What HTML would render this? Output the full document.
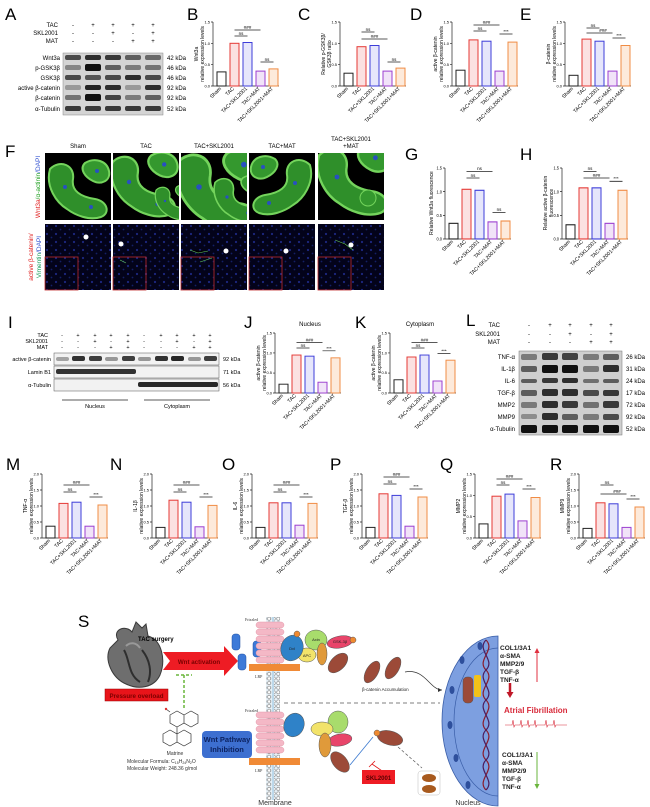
<!DOCTYPE html>
<html><head><meta charset="utf-8"><style>
html,body{margin:0;padding:0;background:#fff}
svg{display:block;font-family:"Liberation Sans",sans-serif}
.L{font-size:17px}
.t{font-size:5.5px}
.s{font-size:6px}
.k{font-size:6.5px}
.ax{stroke:#222;stroke-width:.7;fill:none}
.b0{stroke:#222;fill:#fff;stroke-width:1}
.b1{stroke:#e53935;fill:#fbe1e1;stroke-width:1}
.b2{stroke:#3d3dd9;fill:#e6e6fb;stroke-width:1}
.b3{stroke:#9c3fd0;fill:#f1e3f8;stroke-width:1}
.b4{stroke:#f08c44;fill:#fdeadb;stroke-width:1}
.tk{font-size:4px;text-anchor:end}
.xl{font-size:5.2px;text-anchor:end}
.yt{font-size:5px;text-anchor:middle}
.sg{font-size:4.5px;text-anchor:middle}
.bl{fill:#111}
</style></head><body>
<svg width="650" height="807" viewBox="0 0 650 807" xmlns="http://www.w3.org/2000/svg">
<defs>
<pattern id="dapi" width="9" height="8" patternUnits="userSpaceOnUse">
<rect width="9" height="8" fill="#03031a"/>
<circle cx="2" cy="2" r="1.1" fill="#1c2880"/><circle cx="6.5" cy="5.5" r=".9" fill="#141f66"/>
</pattern>
<pattern id="lip" width="4.6" height="4.6" patternUnits="userSpaceOnUse">
<rect width="4.6" height="4.6" fill="#e8f2f8"/>
<circle cx="2.3" cy="2.3" r="1.6" fill="#fff" stroke="#666" stroke-width=".5"/>
</pattern>
<g id="tis">
<path d="M5,12 C15,2 30,8 28,22 C26,34 36,40 50,42 C62,44 66,56 56,60 C44,64 30,58 22,52 C12,46 0,30 5,12Z" fill="#2f8f2a" stroke="#74d45c" stroke-width="2"/>
<path d="M40,6 C50,0 62,4 64,14 C66,24 56,28 48,24 C40,20 34,12 40,6Z" fill="#34982e" stroke="#74d45c" stroke-width="2"/>
<circle cx="20" cy="30" r="2" fill="#2850c0"/><circle cx="46" cy="50" r="2" fill="#2850c0"/><circle cx="52" cy="14" r="2" fill="#2850c0"/>
</g>
</defs>

<!-- ================= A ================= -->
<text class="L" x="5" y="20">A</text>
<g class="s" text-anchor="end"><text x="58" y="27">TAC</text><text x="58" y="35">SKL2001</text><text x="58" y="43">MAT</text></g>
<g class="s" text-anchor="middle">
<text x="73" y="27">-</text><text x="93" y="27">+</text><text x="113" y="27">+</text><text x="133" y="27">+</text><text x="153" y="27">+</text>
<text x="73" y="35">-</text><text x="93" y="35">-</text><text x="113" y="35">+</text><text x="133" y="35">-</text><text x="153" y="35">+</text>
<text x="73" y="43">-</text><text x="93" y="43">-</text><text x="113" y="43">-</text><text x="133" y="43">+</text><text x="153" y="43">+</text>
</g>
<rect x="63" y="53" width="100" height="62" fill="#d4d4d4" stroke="#888" stroke-width=".5"/>
<g class="s" text-anchor="end">
<text x="60" y="60">Wnt3a</text><text x="60" y="70">p-GSK3β</text><text x="60" y="80">GSK3β</text><text x="60" y="90">active β-catenin</text><text x="60" y="100">β-catenin</text><text x="60" y="111">α-Tubulin</text>
</g>
<g class="s"><text x="167" y="60">42 kDa</text><text x="167" y="70">46 kDa</text><text x="167" y="80">46 kDa</text><text x="167" y="90">92 kDa</text><text x="167" y="100">92 kDa</text><text x="167" y="111">52 kDa</text></g>
<g class="bl">
<rect x="65" y="55" width="16" height="5" rx="2" opacity=".7"/><rect x="85" y="55" width="16" height="5" rx="2" opacity=".85"/><rect x="105" y="55" width="16" height="5" rx="2" opacity=".8"/><rect x="125" y="55" width="16" height="5" rx="2" opacity=".6"/><rect x="145" y="55" width="16" height="5" rx="2" opacity=".55"/>
<rect x="65" y="65" width="16" height="5" rx="2" opacity=".4"/><rect x="85" y="64" width="16" height="7" rx="2" opacity="1"/><rect x="105" y="65" width="16" height="5" rx="2" opacity=".6"/><rect x="125" y="65" width="16" height="5" rx="2" opacity=".45"/><rect x="145" y="65" width="16" height="5" rx="2" opacity=".5"/>
<rect x="65" y="75" width="16" height="5" rx="2" opacity=".7"/><rect x="85" y="75" width="16" height="5" rx="2" opacity=".65"/><rect x="105" y="75" width="16" height="5" rx="2" opacity=".7"/><rect x="125" y="75" width="16" height="5" rx="2" opacity=".85"/><rect x="145" y="75" width="16" height="5" rx="2" opacity=".7"/>
<rect x="65" y="85" width="16" height="5" rx="2" opacity=".3"/><rect x="85" y="85" width="16" height="5" rx="2" opacity=".9"/><rect x="105" y="85" width="16" height="5" rx="2" opacity=".85"/><rect x="125" y="85" width="16" height="5" rx="2" opacity=".3"/><rect x="145" y="85" width="16" height="5" rx="2" opacity=".85"/>
<rect x="65" y="95" width="16" height="5" rx="2" opacity=".5"/><rect x="85" y="94" width="16" height="7" rx="2" opacity="1"/><rect x="105" y="95" width="16" height="5" rx="2" opacity=".75"/><rect x="125" y="95" width="16" height="5" rx="2" opacity=".45"/><rect x="145" y="95" width="16" height="5" rx="2" opacity=".6"/>
<rect x="65" y="106" width="16" height="5" rx="2" opacity=".8"/><rect x="85" y="106" width="16" height="5" rx="2" opacity=".8"/><rect x="105" y="106" width="16" height="5" rx="2" opacity=".8"/><rect x="125" y="106" width="16" height="5" rx="2" opacity=".8"/><rect x="145" y="106" width="16" height="5" rx="2" opacity=".8"/>
</g>

<!-- ================= charts ================= -->
<!-- B -->
<text class="L" x="187" y="20">B</text>
<g transform="translate(213,22)">
<g><path class="ax" d="M0,0V64H66M-2,0H0M-2,21.3H0M-2,42.7H0M-2,64H0"/>
<text class="tk" x="-3" y="65.5">0.0</text><text class="tk" x="-3" y="44">0.5</text><text class="tk" x="-3" y="23">1.0</text><text class="tk" x="-3" y="1.5">1.5</text>
<rect class="b0" x="4" y="49.9" width="9" height="14.1"/><rect class="b1" x="17" y="21.3" width="9" height="42.7"/><rect class="b2" x="30" y="20.5" width="9" height="43.5"/><rect class="b3" x="43" y="49.1" width="9" height="14.9"/><rect class="b4" x="56" y="46.9" width="9" height="17.1"/>
<path class="ax" d="M21.5,8H47.5M21.5,14H34.5M47.5,40H60.5"/><text class="sg" x="34.5" y="7">###</text><text class="sg" x="28" y="13">ns</text><text class="sg" x="54" y="39">ns</text></g>
<text class="yt" transform="translate(-15,32) rotate(-90)">Wnt3a</text><text class="yt" transform="translate(-9,32) rotate(-90)">relative expression levels</text>
<g transform="translate(0,67)"><text class="xl" transform="translate(8.5,0) rotate(-45)">Sham</text><text class="xl" transform="translate(21.5,0) rotate(-45)">TAC</text><text class="xl" transform="translate(34.5,0) rotate(-45)">TAC+SKL2001</text><text class="xl" transform="translate(47.5,0) rotate(-45)">TAC+MAT</text><text class="xl" transform="translate(60.5,0) rotate(-45)">TAC+SKL2001+MAT</text></g>
</g>
<!-- C -->
<text class="L" x="298" y="20">C</text>
<g transform="translate(340,22)">
<g><path class="ax" d="M0,0V64H66M-2,0H0M-2,21.3H0M-2,42.7H0M-2,64H0"/>
<text class="tk" x="-3" y="65.5">0.0</text><text class="tk" x="-3" y="44">0.5</text><text class="tk" x="-3" y="23">1.0</text><text class="tk" x="-3" y="1.5">1.5</text>
<rect class="b0" x="4" y="51.2" width="9" height="12.8"/><rect class="b1" x="17" y="24.7" width="9" height="39.3"/><rect class="b2" x="30" y="23.5" width="9" height="40.5"/><rect class="b3" x="43" y="49.1" width="9" height="14.9"/><rect class="b4" x="56" y="46.1" width="9" height="17.9"/>
<path class="ax" d="M21.5,10H34.5M21.5,17H47.5M47.5,40H60.5"/><text class="sg" x="28" y="9">ns</text><text class="sg" x="34.5" y="16">###</text><text class="sg" x="54" y="39">ns</text></g>
<text class="yt" transform="translate(-15,32) rotate(-90)">Relative p-GSK3β/</text><text class="yt" transform="translate(-9,32) rotate(-90)">GSK3β ratio</text>
<g transform="translate(0,67)"><text class="xl" transform="translate(8.5,0) rotate(-45)">Sham</text><text class="xl" transform="translate(21.5,0) rotate(-45)">TAC</text><text class="xl" transform="translate(34.5,0) rotate(-45)">TAC+SKL2001</text><text class="xl" transform="translate(47.5,0) rotate(-45)">TAC+MAT</text><text class="xl" transform="translate(60.5,0) rotate(-45)">TAC+SKL2001+MAT</text></g>
</g>
<!-- D -->
<text class="L" x="410" y="20">D</text>
<g transform="translate(452,22)">
<g><path class="ax" d="M0,0V64H66M-2,0H0M-2,21.3H0M-2,42.7H0M-2,64H0"/>
<text class="tk" x="-3" y="65.5">0.0</text><text class="tk" x="-3" y="44">0.5</text><text class="tk" x="-3" y="23">1.0</text><text class="tk" x="-3" y="1.5">1.5</text>
<rect class="b0" x="4" y="48.2" width="9" height="15.8"/><rect class="b1" x="17" y="17.9" width="9" height="46.1"/><rect class="b2" x="30" y="19.2" width="9" height="44.8"/><rect class="b3" x="43" y="49.1" width="9" height="14.9"/><rect class="b4" x="56" y="20.1" width="9" height="43.9"/>
<path class="ax" d="M21.5,3H47.5M21.5,9H34.5M47.5,12H60.5"/><text class="sg" x="34.5" y="2">###</text><text class="sg" x="28" y="8">ns</text><text class="sg" x="54" y="11">***</text></g>
<text class="yt" transform="translate(-15,32) rotate(-90)">active β-catenin</text><text class="yt" transform="translate(-9,32) rotate(-90)">relative expression levels</text>
<g transform="translate(0,67)"><text class="xl" transform="translate(8.5,0) rotate(-45)">Sham</text><text class="xl" transform="translate(21.5,0) rotate(-45)">TAC</text><text class="xl" transform="translate(34.5,0) rotate(-45)">TAC+SKL2001</text><text class="xl" transform="translate(47.5,0) rotate(-45)">TAC+MAT</text><text class="xl" transform="translate(60.5,0) rotate(-45)">TAC+SKL2001+MAT</text></g>
</g>
<!-- E -->
<text class="L" x="520" y="20">E</text>
<g transform="translate(565,22)">
<g><path class="ax" d="M0,0V64H66M-2,0H0M-2,21.3H0M-2,42.7H0M-2,64H0"/>
<text class="tk" x="-3" y="65.5">0.0</text><text class="tk" x="-3" y="44">0.5</text><text class="tk" x="-3" y="23">1.0</text><text class="tk" x="-3" y="1.5">1.5</text>
<rect class="b0" x="4" y="53.3" width="9" height="10.7"/><rect class="b1" x="17" y="17.1" width="9" height="46.9"/><rect class="b2" x="30" y="19.2" width="9" height="44.8"/><rect class="b3" x="43" y="49.1" width="9" height="14.9"/><rect class="b4" x="56" y="23.5" width="9" height="40.5"/>
<path class="ax" d="M21.5,6H34.5M21.5,11H47.5M47.5,16H60.5"/><text class="sg" x="28" y="5">ns</text><text class="sg" x="38" y="10">###</text><text class="sg" x="54" y="15">***</text></g>
<text class="yt" transform="translate(-15,32) rotate(-90)">β-catenin</text><text class="yt" transform="translate(-9,32) rotate(-90)">relative expression levels</text>
<g transform="translate(0,67)"><text class="xl" transform="translate(8.5,0) rotate(-45)">Sham</text><text class="xl" transform="translate(21.5,0) rotate(-45)">TAC</text><text class="xl" transform="translate(34.5,0) rotate(-45)">TAC+SKL2001</text><text class="xl" transform="translate(47.5,0) rotate(-45)">TAC+MAT</text><text class="xl" transform="translate(60.5,0) rotate(-45)">TAC+SKL2001+MAT</text></g>
</g>

<!-- ================= F ================= -->
<text class="L" x="5" y="157">F</text>
<g class="s" text-anchor="middle"><text x="78" y="148">Sham</text><text x="146" y="148">TAC</text><text x="214" y="148">TAC+SKL2001</text><text x="282" y="148">TAC+MAT</text><text x="351" y="141">TAC+SKL2001</text><text x="351" y="148">+MAT</text></g>
<text transform="translate(40,187) rotate(-90)" text-anchor="middle" font-size="6.5"><tspan fill="#e02020">Wnt3a</tspan><tspan fill="#20a020">/α-actinin</tspan><tspan fill="#3050d0">/DAPI</tspan></text>
<text transform="translate(33,257) rotate(-90)" text-anchor="middle" font-size="6.5" fill="#e02020">active β-catenin/</text>
<text transform="translate(41,257) rotate(-90)" text-anchor="middle" font-size="6.5"><tspan fill="#20a060">Vimentin</tspan><tspan fill="#3050d0">/DAPI</tspan></text>
<svg x="45" y="153" width="66" height="67"><rect width="66" height="67" fill="#000"/><use href="#tis" transform="translate(0,4)"/></svg>
<svg x="113" y="153" width="66" height="67"><rect width="66" height="67" fill="#000"/><use href="#tis" transform="translate(-6,-4) scale(1.1)"/><use href="#tis" transform="translate(40,30) scale(.6)"/></svg>
<svg x="181" y="153" width="66" height="67"><rect width="66" height="67" fill="#000"/><use href="#tis" transform="translate(-10,-8) scale(1.4)"/><use href="#tis" transform="translate(30,20) scale(.8)"/></svg>
<svg x="249" y="153" width="66" height="67"><rect width="66" height="67" fill="#000"/><use href="#tis" transform="translate(66,0) scale(-1,1)"/></svg>
<svg x="318" y="153" width="66" height="67"><rect width="66" height="67" fill="#000"/><use href="#tis" transform="translate(-5,-12) scale(1.2)"/><circle cx="50" cy="45" r="8" fill="#34982e" stroke="#74d45c"/></svg>
<g>
<rect x="45" y="224" width="66" height="66" fill="url(#dapi)"/><rect x="113" y="224" width="66" height="66" fill="url(#dapi)"/><rect x="181" y="224" width="66" height="66" fill="url(#dapi)"/><rect x="249" y="224" width="66" height="66" fill="url(#dapi)"/><rect x="318" y="224" width="66" height="66" fill="url(#dapi)"/>
<g fill="none" stroke="#c02828" stroke-width=".8"><rect x="45" y="257" width="33" height="33"/><rect x="113" y="257" width="33" height="33"/><rect x="181" y="257" width="33" height="33"/><rect x="249" y="257" width="33" height="33"/><rect x="318" y="257" width="33" height="33"/></g>
<g fill="#fff"><circle cx="86" cy="237" r="2.5"/><circle cx="121" cy="244" r="2.5"/><circle cx="226" cy="251" r="2.5"/><circle cx="286" cy="251" r="2.5"/><circle cx="351" cy="245" r="2.5"/></g>
<g stroke="#6c6" stroke-width=".6"><path d="M190,250l8,3 10,-2M200,262l12,-4M335,240l10,4 8,6M120,260l6,3"/></g>
</g>
<!-- G -->
<text class="L" x="405" y="160">G</text>
<g transform="translate(445,168)">
<g transform="scale(1,1.109)"><path class="ax" d="M0,0V64H66M-2,0H0M-2,21.3H0M-2,42.7H0M-2,64H0"/>
<text class="tk" x="-3" y="65.5">0.0</text><text class="tk" x="-3" y="44">0.5</text><text class="tk" x="-3" y="23">1.0</text><text class="tk" x="-3" y="1.5">1.5</text>
<rect class="b0" x="4" y="49.9" width="9" height="14.1"/><rect class="b1" x="17" y="19.2" width="9" height="44.8"/><rect class="b2" x="30" y="20.1" width="9" height="43.9"/><rect class="b3" x="43" y="48.6" width="9" height="15.4"/><rect class="b4" x="56" y="47.8" width="9" height="16.2"/>
<path class="ax" d="M21.5,3H47.5M21.5,9H34.5M47.5,40H60.5"/><text class="sg" x="34.5" y="2">ns</text><text class="sg" x="28" y="8">ns</text><text class="sg" x="54" y="39">ns</text></g>
<text class="yt" transform="translate(-12,35) rotate(-90)">Relative Wnt3a fluorescence</text>
<g transform="translate(0,74)"><text class="xl" transform="translate(8.5,0) rotate(-45)">Sham</text><text class="xl" transform="translate(21.5,0) rotate(-45)">TAC</text><text class="xl" transform="translate(34.5,0) rotate(-45)">TAC+SKL2001</text><text class="xl" transform="translate(47.5,0) rotate(-45)">TAC+MAT</text><text class="xl" transform="translate(60.5,0) rotate(-45)">TAC+SKL2001+MAT</text></g>
</g>
<!-- H -->
<text class="L" x="520" y="160">H</text>
<g transform="translate(562,168)">
<g transform="scale(1,1.109)"><path class="ax" d="M0,0V64H66M-2,0H0M-2,21.3H0M-2,42.7H0M-2,64H0"/>
<text class="tk" x="-3" y="65.5">0.0</text><text class="tk" x="-3" y="44">0.5</text><text class="tk" x="-3" y="23">1.0</text><text class="tk" x="-3" y="1.5">1.5</text>
<rect class="b0" x="4" y="51.2" width="9" height="12.8"/><rect class="b1" x="17" y="17.9" width="9" height="46.1"/><rect class="b2" x="30" y="17.9" width="9" height="46.1"/><rect class="b3" x="43" y="49.9" width="9" height="14.1"/><rect class="b4" x="56" y="20.1" width="9" height="43.9"/>
<path class="ax" d="M21.5,3H34.5M21.5,9H47.5M47.5,12H60.5"/><text class="sg" x="28" y="2">ns</text><text class="sg" x="34.5" y="8">###</text><text class="sg" x="54" y="11">***</text></g>
<text class="yt" transform="translate(-15,35) rotate(-90)">Relative active β-catenin</text><text class="yt" transform="translate(-9,35) rotate(-90)">fluorescence</text>
<g transform="translate(0,74)"><text class="xl" transform="translate(8.5,0) rotate(-45)">Sham</text><text class="xl" transform="translate(21.5,0) rotate(-45)">TAC</text><text class="xl" transform="translate(34.5,0) rotate(-45)">TAC+SKL2001</text><text class="xl" transform="translate(47.5,0) rotate(-45)">TAC+MAT</text><text class="xl" transform="translate(60.5,0) rotate(-45)">TAC+SKL2001+MAT</text></g>
</g>

<!-- ================= I ================= -->
<text class="L" x="8" y="328">I</text>
<g class="t" text-anchor="end"><text x="48" y="337">TAC</text><text x="48" y="343">SKL2001</text><text x="48" y="349">MAT</text></g>
<g class="t" text-anchor="middle">
<text x="62" y="337">-</text><text x="78" y="337">+</text><text x="95" y="337">+</text><text x="111" y="337">+</text><text x="128" y="337">+</text><text x="144" y="337">-</text><text x="161" y="337">+</text><text x="177" y="337">+</text><text x="194" y="337">+</text><text x="210" y="337">+</text>
<text x="62" y="343">-</text><text x="78" y="343">-</text><text x="95" y="343">+</text><text x="111" y="343">-</text><text x="128" y="343">+</text><text x="144" y="343">-</text><text x="161" y="343">-</text><text x="177" y="343">+</text><text x="194" y="343">-</text><text x="210" y="343">+</text>
<text x="62" y="349">-</text><text x="78" y="349">-</text><text x="95" y="349">-</text><text x="111" y="349">+</text><text x="128" y="349">+</text><text x="144" y="349">-</text><text x="161" y="349">-</text><text x="177" y="349">-</text><text x="194" y="349">+</text><text x="210" y="349">+</text>
</g>
<g fill="#f2f2f2" stroke="#555" stroke-width=".5"><rect x="54" y="353" width="165" height="12"/><rect x="54" y="366" width="165" height="12"/><rect x="54" y="379" width="165" height="12"/></g>
<g class="t" text-anchor="end"><text x="51" y="361">active β-catenin</text><text x="51" y="374">Lamin B1</text><text x="51" y="387">α-Tubulin</text></g>
<g class="t"><text x="223" y="361">92 kDa</text><text x="223" y="374">71 kDa</text><text x="223" y="387">56 kDa</text></g>
<g class="bl">
<rect x="56" y="357" width="13" height="4" rx="2" opacity=".35"/><rect x="72" y="356" width="13" height="5" rx="2" opacity=".85"/><rect x="89" y="356" width="13" height="5" rx="2" opacity=".8"/><rect x="105" y="357" width="13" height="4" rx="2" opacity=".4"/><rect x="122" y="356" width="13" height="5" rx="2" opacity=".8"/>
<rect x="138" y="357" width="13" height="4" rx="2" opacity=".4"/><rect x="155" y="356" width="13" height="5" rx="2" opacity=".85"/><rect x="171" y="356" width="13" height="5" rx="2" opacity=".9"/><rect x="188" y="357" width="13" height="4" rx="2" opacity=".4"/><rect x="204" y="356" width="13" height="5" rx="2" opacity=".8"/>
<rect x="56" y="369" width="80" height="5" rx="2" opacity=".85"/>
<rect x="138" y="382" width="80" height="5" rx="2" opacity=".9"/>
</g>
<path class="ax" d="M62,400H128M144,400H210"/>
<g class="t" text-anchor="middle"><text x="95" y="408">Nucleus</text><text x="177" y="408">Cytoplasm</text></g>
<!-- J -->
<text class="L" x="244" y="328">J</text><text class="s" x="310" y="326" text-anchor="middle">Nucleus</text>
<g transform="translate(275,333)">
<g transform="scale(1,.9375)"><path class="ax" d="M0,0V64H66M-2,0H0M-2,21.3H0M-2,42.7H0M-2,64H0"/>
<text class="tk" x="-3" y="65.5">0.0</text><text class="tk" x="-3" y="44">0.5</text><text class="tk" x="-3" y="23">1.0</text><text class="tk" x="-3" y="1.5">1.5</text>
<rect class="b0" x="4" y="54.6" width="9" height="9.4"/><rect class="b1" x="17" y="23.5" width="9" height="40.5"/><rect class="b2" x="30" y="24.7" width="9" height="39.3"/><rect class="b3" x="43" y="52.5" width="9" height="11.5"/><rect class="b4" x="56" y="26.5" width="9" height="37.5"/>
<path class="ax" d="M21.5,10H47.5M21.5,16H34.5M47.5,19H60.5"/><text class="sg" x="34.5" y="9">###</text><text class="sg" x="28" y="15">ns</text><text class="sg" x="54" y="18">***</text></g>
<text class="yt" transform="translate(-15,30) rotate(-90)">active β-catenin</text><text class="yt" transform="translate(-9,30) rotate(-90)">relative expression levels</text>
<g transform="translate(0,63)"><text class="xl" transform="translate(8.5,0) rotate(-45)">Sham</text><text class="xl" transform="translate(21.5,0) rotate(-45)">TAC</text><text class="xl" transform="translate(34.5,0) rotate(-45)">TAC+SKL2001</text><text class="xl" transform="translate(47.5,0) rotate(-45)">TAC+MAT</text><text class="xl" transform="translate(60.5,0) rotate(-45)">TAC+SKL2001+MAT</text></g>
</g>
<!-- K -->
<text class="L" x="355" y="328">K</text><text class="s" x="420" y="326" text-anchor="middle">Cytoplasm</text>
<g transform="translate(390,333)">
<g transform="scale(1,.9375)"><path class="ax" d="M0,0V64H66M-2,0H0M-2,21.3H0M-2,42.7H0M-2,64H0"/>
<text class="tk" x="-3" y="65.5">0.0</text><text class="tk" x="-3" y="44">0.5</text><text class="tk" x="-3" y="23">1.0</text><text class="tk" x="-3" y="1.5">1.5</text>
<rect class="b0" x="4" y="49.9" width="9" height="14.1"/><rect class="b1" x="17" y="25.6" width="9" height="38.4"/><rect class="b2" x="30" y="23.5" width="9" height="40.5"/><rect class="b3" x="43" y="51.2" width="9" height="12.8"/><rect class="b4" x="56" y="29" width="9" height="35"/>
<path class="ax" d="M21.5,10H47.5M21.5,16H34.5M47.5,22H60.5"/><text class="sg" x="34.5" y="9">###</text><text class="sg" x="28" y="15">ns</text><text class="sg" x="54" y="21">***</text></g>
<text class="yt" transform="translate(-15,30) rotate(-90)">active β-catenin</text><text class="yt" transform="translate(-9,30) rotate(-90)">relative expression levels</text>
<g transform="translate(0,63)"><text class="xl" transform="translate(8.5,0) rotate(-45)">Sham</text><text class="xl" transform="translate(21.5,0) rotate(-45)">TAC</text><text class="xl" transform="translate(34.5,0) rotate(-45)">TAC+SKL2001</text><text class="xl" transform="translate(47.5,0) rotate(-45)">TAC+MAT</text><text class="xl" transform="translate(60.5,0) rotate(-45)">TAC+SKL2001+MAT</text></g>
</g>

<!-- ================= L ================= -->
<text class="L" x="466" y="326">L</text>
<g class="s" text-anchor="end"><text x="500" y="327">TAC</text><text x="500" y="336">SKL2001</text><text x="500" y="344">MAT</text></g>
<g class="s" text-anchor="middle">
<text x="529" y="327">-</text><text x="550" y="327">+</text><text x="570" y="327">+</text><text x="591" y="327">+</text><text x="611" y="327">+</text>
<text x="529" y="336">-</text><text x="550" y="336">-</text><text x="570" y="336">+</text><text x="591" y="336">-</text><text x="611" y="336">+</text>
<text x="529" y="344">-</text><text x="550" y="344">-</text><text x="570" y="344">-</text><text x="591" y="344">+</text><text x="611" y="344">+</text>
</g>
<rect x="519" y="351" width="103" height="84" fill="#cfcfcf" stroke="#777" stroke-width=".5"/>
<g class="s" text-anchor="end"><text x="515" y="359">TNF-α</text><text x="515" y="371">IL-1β</text><text x="515" y="383">IL-6</text><text x="515" y="395">TGF-β</text><text x="515" y="407">MMP2</text><text x="515" y="419">MMP9</text><text x="515" y="431">α-Tubulin</text></g>
<g class="s"><text x="626" y="359">26 kDa</text><text x="626" y="371">31 kDa</text><text x="626" y="383">24 kDa</text><text x="626" y="395">17 kDa</text><text x="626" y="407">72 kDa</text><text x="626" y="419">92 kDa</text><text x="626" y="431">52 kDa</text></g>
<g class="bl">
<rect x="521" y="354" width="16" height="6" rx="2" opacity=".45"/><rect x="542" y="353" width="16" height="7" rx="2" opacity=".8"/><rect x="562" y="353" width="16" height="7" rx="2" opacity=".75"/><rect x="583" y="354" width="16" height="6" rx="2" opacity=".45"/><rect x="603" y="354" width="16" height="6" rx="2" opacity=".6"/>
<rect x="521" y="366" width="16" height="6" rx="2" opacity=".6"/><rect x="542" y="365" width="16" height="8" rx="2" opacity="1"/><rect x="562" y="365" width="16" height="8" rx="2" opacity="1"/><rect x="583" y="366" width="16" height="6" rx="2" opacity=".45"/><rect x="603" y="365" width="16" height="7" rx="2" opacity=".85"/>
<rect x="521" y="379" width="16" height="4" rx="2" opacity=".6"/><rect x="542" y="378" width="16" height="5" rx="2" opacity=".8"/><rect x="562" y="378" width="16" height="5" rx="2" opacity=".85"/><rect x="583" y="379" width="16" height="4" rx="2" opacity=".5"/><rect x="603" y="379" width="16" height="4" rx="2" opacity=".6"/>
<rect x="521" y="390" width="16" height="6" rx="2" opacity=".6"/><rect x="542" y="389" width="16" height="7" rx="2" opacity=".85"/><rect x="562" y="389" width="16" height="7" rx="2" opacity=".85"/><rect x="583" y="390" width="16" height="6" rx="2" opacity=".7"/><rect x="603" y="390" width="16" height="6" rx="2" opacity=".8"/>
<rect x="521" y="402" width="16" height="6" rx="2" opacity=".45"/><rect x="542" y="401" width="16" height="7" rx="2" opacity=".85"/><rect x="562" y="401" width="16" height="7" rx="2" opacity=".8"/><rect x="583" y="402" width="16" height="6" rx="2" opacity=".5"/><rect x="603" y="401" width="16" height="7" rx="2" opacity=".8"/>
<rect x="521" y="414" width="16" height="5" rx="2" opacity=".35"/><rect x="542" y="413" width="16" height="7" rx="2" opacity=".85"/><rect x="562" y="414" width="16" height="6" rx="2" opacity=".6"/><rect x="583" y="414" width="16" height="6" rx="2" opacity=".45"/><rect x="603" y="414" width="16" height="6" rx="2" opacity=".7"/>
<rect x="521" y="425" width="16" height="8" rx="2" opacity="1"/><rect x="542" y="425" width="16" height="8" rx="2" opacity="1"/><rect x="562" y="425" width="16" height="8" rx="2" opacity="1"/><rect x="583" y="425" width="16" height="8" rx="2" opacity="1"/><rect x="603" y="425" width="16" height="8" rx="2" opacity="1"/>
</g>

<!-- ================= M-R ================= -->
<text class="L" x="6" y="470">M</text>
<g transform="translate(42,474)">
<g><path class="ax" d="M0,0V64H66M-2,0H0M-2,16H0M-2,32H0M-2,48H0M-2,64H0"/>
<text class="tk" x="-3" y="65.5">0.0</text><text class="tk" x="-3" y="49.5">0.5</text><text class="tk" x="-3" y="33.5">1.0</text><text class="tk" x="-3" y="17.5">1.5</text><text class="tk" x="-3" y="1.5">2.0</text>
<rect class="b0" x="4" y="52.2" width="9" height="11.8"/><rect class="b1" x="17" y="29.4" width="9" height="34.6"/><rect class="b2" x="30" y="28.2" width="9" height="35.8"/><rect class="b3" x="43" y="52.2" width="9" height="11.8"/><rect class="b4" x="56" y="31" width="9" height="33"/>
<path class="ax" d="M21.5,11H47.5M21.5,18H34.5M47.5,23H60.5"/><text class="sg" x="34.5" y="10">###</text><text class="sg" x="28" y="17">ns</text><text class="sg" x="54" y="22">***</text></g>
<text class="yt" transform="translate(-15,32) rotate(-90)">TNF-α</text><text class="yt" transform="translate(-9,32) rotate(-90)">relative expression levels</text>
<g transform="translate(0,67)"><text class="xl" transform="translate(8.5,0) rotate(-45)">Sham</text><text class="xl" transform="translate(21.5,0) rotate(-45)">TAC</text><text class="xl" transform="translate(34.5,0) rotate(-45)">TAC+SKL2001</text><text class="xl" transform="translate(47.5,0) rotate(-45)">TAC+MAT</text><text class="xl" transform="translate(60.5,0) rotate(-45)">TAC+SKL2001+MAT</text></g>
</g>
<text class="L" x="110" y="470">N</text>
<g transform="translate(152,474)">
<g><path class="ax" d="M0,0V64H66M-2,0H0M-2,16H0M-2,32H0M-2,48H0M-2,64H0"/>
<text class="tk" x="-3" y="65.5">0.0</text><text class="tk" x="-3" y="49.5">0.5</text><text class="tk" x="-3" y="33.5">1.0</text><text class="tk" x="-3" y="17.5">1.5</text><text class="tk" x="-3" y="1.5">2.0</text>
<rect class="b0" x="4" y="53.4" width="9" height="10.6"/><rect class="b1" x="17" y="26.2" width="9" height="37.8"/><rect class="b2" x="30" y="28.2" width="9" height="35.8"/><rect class="b3" x="43" y="52.8" width="9" height="11.2"/><rect class="b4" x="56" y="31.4" width="9" height="32.6"/>
<path class="ax" d="M21.5,11H47.5M21.5,18H34.5M47.5,23H60.5"/><text class="sg" x="34.5" y="10">###</text><text class="sg" x="28" y="17">ns</text><text class="sg" x="54" y="22">***</text></g>
<text class="yt" transform="translate(-15,32) rotate(-90)">IL-1β</text><text class="yt" transform="translate(-9,32) rotate(-90)">relative expression levels</text>
<g transform="translate(0,67)"><text class="xl" transform="translate(8.5,0) rotate(-45)">Sham</text><text class="xl" transform="translate(21.5,0) rotate(-45)">TAC</text><text class="xl" transform="translate(34.5,0) rotate(-45)">TAC+SKL2001</text><text class="xl" transform="translate(47.5,0) rotate(-45)">TAC+MAT</text><text class="xl" transform="translate(60.5,0) rotate(-45)">TAC+SKL2001+MAT</text></g>
</g>
<text class="L" x="222" y="470">O</text>
<g transform="translate(252,474)">
<g><path class="ax" d="M0,0V64H66M-2,0H0M-2,16H0M-2,32H0M-2,48H0M-2,64H0"/>
<text class="tk" x="-3" y="65.5">0.0</text><text class="tk" x="-3" y="49.5">0.5</text><text class="tk" x="-3" y="33.5">1.0</text><text class="tk" x="-3" y="17.5">1.5</text><text class="tk" x="-3" y="1.5">2.0</text>
<rect class="b0" x="4" y="53.4" width="9" height="10.6"/><rect class="b1" x="17" y="28.8" width="9" height="35.2"/><rect class="b2" x="30" y="28.8" width="9" height="35.2"/><rect class="b3" x="43" y="51.2" width="9" height="12.8"/><rect class="b4" x="56" y="29.4" width="9" height="34.6"/>
<path class="ax" d="M21.5,11H47.5M21.5,18H34.5M47.5,23H60.5"/><text class="sg" x="34.5" y="10">###</text><text class="sg" x="28" y="17">ns</text><text class="sg" x="54" y="22">***</text></g>
<text class="yt" transform="translate(-15,32) rotate(-90)">IL-6</text><text class="yt" transform="translate(-9,32) rotate(-90)">relative expression levels</text>
<g transform="translate(0,67)"><text class="xl" transform="translate(8.5,0) rotate(-45)">Sham</text><text class="xl" transform="translate(21.5,0) rotate(-45)">TAC</text><text class="xl" transform="translate(34.5,0) rotate(-45)">TAC+SKL2001</text><text class="xl" transform="translate(47.5,0) rotate(-45)">TAC+MAT</text><text class="xl" transform="translate(60.5,0) rotate(-45)">TAC+SKL2001+MAT</text></g>
</g>
<text class="L" x="330" y="470">P</text>
<g transform="translate(362,474)">
<g><path class="ax" d="M0,0V64H66M-2,0H0M-2,16H0M-2,32H0M-2,48H0M-2,64H0"/>
<text class="tk" x="-3" y="65.5">0.0</text><text class="tk" x="-3" y="49.5">0.5</text><text class="tk" x="-3" y="33.5">1.0</text><text class="tk" x="-3" y="17.5">1.5</text><text class="tk" x="-3" y="1.5">2.0</text>
<rect class="b0" x="4" y="53.4" width="9" height="10.6"/><rect class="b1" x="17" y="19.8" width="9" height="44.2"/><rect class="b2" x="30" y="21.4" width="9" height="42.6"/><rect class="b3" x="43" y="52.2" width="9" height="11.8"/><rect class="b4" x="56" y="23" width="9" height="41"/>
<path class="ax" d="M21.5,3H47.5M21.5,10H34.5M47.5,15H60.5"/><text class="sg" x="34.5" y="2">###</text><text class="sg" x="28" y="9">ns</text><text class="sg" x="54" y="14">***</text></g>
<text class="yt" transform="translate(-15,32) rotate(-90)">TGF-β</text><text class="yt" transform="translate(-9,32) rotate(-90)">relative expression levels</text>
<g transform="translate(0,67)"><text class="xl" transform="translate(8.5,0) rotate(-45)">Sham</text><text class="xl" transform="translate(21.5,0) rotate(-45)">TAC</text><text class="xl" transform="translate(34.5,0) rotate(-45)">TAC+SKL2001</text><text class="xl" transform="translate(47.5,0) rotate(-45)">TAC+MAT</text><text class="xl" transform="translate(60.5,0) rotate(-45)">TAC+SKL2001+MAT</text></g>
</g>
<text class="L" x="440" y="470">Q</text>
<g transform="translate(475,474)">
<g><path class="ax" d="M0,0V64H66M-2,0H0M-2,21.3H0M-2,42.7H0M-2,64H0"/>
<text class="tk" x="-3" y="65.5">0.0</text><text class="tk" x="-3" y="44">0.5</text><text class="tk" x="-3" y="23">1.0</text><text class="tk" x="-3" y="1.5">1.5</text>
<rect class="b0" x="4" y="49.9" width="9" height="14.1"/><rect class="b1" x="17" y="22.2" width="9" height="41.8"/><rect class="b2" x="30" y="20.1" width="9" height="43.9"/><rect class="b3" x="43" y="46.9" width="9" height="17.1"/><rect class="b4" x="56" y="23.5" width="9" height="40.5"/>
<path class="ax" d="M21.5,5H47.5M21.5,11H34.5M47.5,15H60.5"/><text class="sg" x="34.5" y="4">###</text><text class="sg" x="28" y="10">ns</text><text class="sg" x="54" y="14">***</text></g>
<text class="yt" transform="translate(-15,32) rotate(-90)">MMP2</text><text class="yt" transform="translate(-9,32) rotate(-90)">relative expression levels</text>
<g transform="translate(0,67)"><text class="xl" transform="translate(8.5,0) rotate(-45)">Sham</text><text class="xl" transform="translate(21.5,0) rotate(-45)">TAC</text><text class="xl" transform="translate(34.5,0) rotate(-45)">TAC+SKL2001</text><text class="xl" transform="translate(47.5,0) rotate(-45)">TAC+MAT</text><text class="xl" transform="translate(60.5,0) rotate(-45)">TAC+SKL2001+MAT</text></g>
</g>
<text class="L" x="550" y="470">R</text>
<g transform="translate(579,474)">
<g><path class="ax" d="M0,0V64H66M-2,0H0M-2,16H0M-2,32H0M-2,48H0M-2,64H0"/>
<text class="tk" x="-3" y="65.5">0.0</text><text class="tk" x="-3" y="49.5">0.5</text><text class="tk" x="-3" y="33.5">1.0</text><text class="tk" x="-3" y="17.5">1.5</text><text class="tk" x="-3" y="1.5">2.0</text>
<rect class="b0" x="4" y="54.4" width="9" height="9.6"/><rect class="b1" x="17" y="28.8" width="9" height="35.2"/><rect class="b2" x="30" y="29.8" width="9" height="34.2"/><rect class="b3" x="43" y="53.4" width="9" height="10.6"/><rect class="b4" x="56" y="33" width="9" height="31"/>
<path class="ax" d="M21.5,11H34.5M21.5,20H47.5M47.5,25H60.5"/><text class="sg" x="28" y="10">ns</text><text class="sg" x="38" y="19">###</text><text class="sg" x="54" y="24">***</text></g>
<text class="yt" transform="translate(-15,32) rotate(-90)">MMP9</text><text class="yt" transform="translate(-9,32) rotate(-90)">relative expression levels</text>
<g transform="translate(0,67)"><text class="xl" transform="translate(8.5,0) rotate(-45)">Sham</text><text class="xl" transform="translate(21.5,0) rotate(-45)">TAC</text><text class="xl" transform="translate(34.5,0) rotate(-45)">TAC+SKL2001</text><text class="xl" transform="translate(47.5,0) rotate(-45)">TAC+MAT</text><text class="xl" transform="translate(60.5,0) rotate(-45)">TAC+SKL2001+MAT</text></g>
</g>

<!-- ================= S ================= -->
<text class="L" x="78" y="627">S</text>
<path d="M118,640 C112,630 125,624 132,632 L136,622 L142,628 L146,624 L148,636 C162,640 166,660 160,675 C154,688 138,690 126,684 C112,678 104,660 110,648 Z" fill="#6e6e6e" stroke="#3a3a3a" stroke-width="1"/>
<path d="M124,650 C130,660 128,675 140,682 M142,650 C150,660 152,672 148,682" stroke="#2e2e2e" stroke-width="2" fill="none"/>
<path d="M126,646 C130,642 136,642 140,648" stroke="#999" stroke-width="2" fill="none"/>
<text x="138" y="641" font-size="6" font-weight="bold">TAC surgery</text>
<rect x="105" y="689" width="63" height="12" fill="#e8141a" stroke="#900" stroke-width=".5"/>
<text x="136.5" y="698" font-size="6.2" font-weight="bold" fill="#7a0000" text-anchor="middle">Pressure overload</text>
<polygon points="163,652 224,652 224,646 238,661 224,676 224,670 163,670 170,661" fill="#ee1c24"/>
<text x="199" y="664" font-size="6.2" font-weight="bold" fill="#7a0000" text-anchor="middle">Wnt activation</text>
<g fill="#3d7ad8" stroke="#1f4fa0" stroke-width=".5"><rect x="232" y="634" width="8" height="16" rx="3"/><rect x="253" y="641" width="8" height="16" rx="3"/><rect x="238" y="654" width="8" height="16" rx="3"/></g>
<path d="M176,675H192M184,675V708" stroke="#6ab53c" stroke-width="1.5" stroke-dasharray="3,2" fill="none"/>
<g stroke="#333" stroke-width=".7" fill="none">
<path d="M170,715 l7,-4 7,4 0,8 -7,4 -7,-4Z M184,715 l7,-4 7,4 0,8 -7,4 -7,-4Z M163,734 l7,-4 7,4 0,8 -7,4 -7,-4Z M177,734 l7,-4 7,4 0,8 -7,4 -7,-4Z M177,727 l0,7 M170,712 l-4,-3"/>
</g>
<circle cx="166" cy="709" r="1.2" fill="#d33"/>
<g font-size="5" text-anchor="middle" fill="#333"><text x="175" y="755">Matrine</text></g>
<g font-size="5" fill="#333"><text x="127" y="763">Molecular Formula:  C<tspan font-size="3.5" dy="1">15</tspan><tspan dy="-1">H</tspan><tspan font-size="3.5" dy="1">24</tspan><tspan dy="-1">N</tspan><tspan font-size="3.5" dy="1">2</tspan><tspan dy="-1">O</tspan></text><text x="127" y="770">Molecular Weight:   248.36 g/mol</text></g>
<rect x="202" y="731" width="50" height="27" rx="4" fill="#3d6fd0"/>
<text x="227" y="742" font-size="7.5" font-weight="bold" fill="#0c2260" text-anchor="middle">Wnt Pathway</text>
<text x="227" y="752" font-size="7.5" font-weight="bold" fill="#0c2260" text-anchor="middle">Inhibition</text>
<rect x="266" y="617" width="14" height="183" fill="url(#lip)"/>
<rect x="272" y="617" width="2" height="183" fill="#bcd8ea"/>
<g fill="#f4b8c6" stroke="#e59aab" stroke-width=".5">
<rect x="256" y="622" width="28" height="6" rx="3"/><rect x="256" y="629" width="28" height="6" rx="3"/><rect x="256" y="636" width="28" height="6" rx="3"/><rect x="256" y="643" width="28" height="6" rx="3"/><rect x="256" y="650" width="28" height="6" rx="3"/><rect x="256" y="657" width="28" height="6" rx="3"/>
<rect x="256" y="712" width="28" height="6" rx="3"/><rect x="256" y="719" width="28" height="6" rx="3"/><rect x="256" y="726" width="28" height="6" rx="3"/><rect x="256" y="733" width="28" height="6" rx="3"/><rect x="256" y="740" width="28" height="6" rx="3"/><rect x="256" y="747" width="28" height="6" rx="3"/>
</g>
<rect x="249" y="664" width="51" height="7" fill="#f08a36"/><rect x="249" y="758" width="51" height="7" fill="#f08a36"/>
<g font-size="4" font-family="Liberation Serif,serif" fill="#333"><text x="245" y="621">Frizzled</text><text x="245" y="712">Frizzled</text><text x="255" y="678">LRP</text><text x="255" y="772">LRP</text></g>
<text x="275" y="805" font-size="7" text-anchor="middle" fill="#333">Membrane</text>
<path d="M284,703H440" stroke="#555" stroke-width=".8" stroke-dasharray="4,3"/>
<g stroke-width=".5" stroke="#555">
<ellipse cx="316" cy="640" rx="11" ry="10" fill="#a8dc6c"/>
<ellipse cx="340" cy="642" rx="13" ry="6" fill="#e8456a" transform="rotate(-10,340,642)"/>
<ellipse cx="307" cy="655" rx="9" ry="7" fill="#f2e36a"/>
<ellipse cx="322" cy="654" rx="5" ry="11" fill="#e09a3a"/>
<ellipse cx="292" cy="648" rx="11" ry="13" fill="#2f82c8" transform="rotate(20,292,648)"/>
<ellipse cx="338" cy="663" rx="7" ry="12" fill="#9c4a38" transform="rotate(45,338,663)"/>
<ellipse cx="372" cy="672" rx="6" ry="12" fill="#9c4a38" transform="rotate(30,372,672)"/>
<ellipse cx="393" cy="668" rx="6" ry="12" fill="#9c4a38" transform="rotate(30,393,668)"/>
<circle cx="297" cy="634" r="3" fill="#f08a30"/><circle cx="353" cy="640" r="3" fill="#f08a30"/>
</g>
<g font-size="4" text-anchor="middle" fill="#222"><text x="292" y="650">Dvl</text><text x="316" y="641">Axin</text><text x="307" y="657">APC</text><text x="340" y="643">GSK-3β</text></g>
<text x="362" y="691" font-size="4.5" fill="#222">β-catenin Accumulation</text>
<path d="M405,672 C425,668 430,690 442,690" stroke="#333" stroke-width=".7" fill="none"/><path d="M442,690l-4,-2 0,4z" fill="#333"/>
<g stroke-width=".5" stroke="#555">
<ellipse cx="294" cy="725" rx="10" ry="12" fill="#2f82c8" transform="rotate(20,294,725)"/>
<ellipse cx="338" cy="722" rx="10" ry="11" fill="#a8dc6c"/>
<ellipse cx="322" cy="729" rx="11" ry="7" fill="#f2e36a"/>
<ellipse cx="340" cy="740" rx="12" ry="6" fill="#e8456a" transform="rotate(-10,340,740)"/>
<ellipse cx="325" cy="745" rx="6" ry="12" fill="#e09a3a"/>
<ellipse cx="340" cy="762" rx="7" ry="12" fill="#9c4a38" transform="rotate(-40,340,762)"/>
<ellipse cx="390" cy="738" rx="13" ry="7" fill="#9c4a38" transform="rotate(15,390,738)"/>
<circle cx="377" cy="733" r="3" fill="#f08a30"/>
</g>
<path d="M350,765 L373,737" stroke="#3c7ad0" stroke-width=".8"/>
<path d="M398,747 L422,768" stroke="#555" stroke-width=".7" stroke-dasharray="3,2"/>
<path d="M385,773 L372,764 M369,767l6,-6" stroke="#e01818" stroke-width=".8"/>
<rect x="362" y="770" width="33" height="14" fill="#ee1c24"/>
<text x="378.5" y="780" font-size="6" font-weight="bold" fill="#5a0000" text-anchor="middle">SKL2001</text>
<rect x="418" y="771" width="22" height="24" rx="3" fill="#fff" stroke="#bbb" stroke-width=".5"/>
<ellipse cx="429" cy="778" rx="7" ry="4" fill="#a85a1e"/><ellipse cx="429" cy="789" rx="7" ry="4" fill="#a85a1e"/>
<path d="M498,636 A56,85 0 0 0 498,806 Z" fill="#7d9fe0" stroke="#3a5ea8" stroke-width=".8"/>
<path d="M498,648 A44,74 0 0 0 498,796" fill="none" stroke="#3a5ea8" stroke-width=".7"/>
<g fill="#2e4f9c"><ellipse cx="462" cy="660" rx="2.5" ry="4"/><ellipse cx="452" cy="690" rx="2.5" ry="4"/><ellipse cx="450" cy="725" rx="2.5" ry="4"/><ellipse cx="456" cy="758" rx="2.5" ry="4"/><ellipse cx="468" cy="785" rx="2.5" ry="4"/><ellipse cx="480" cy="646" rx="2.5" ry="4"/></g>
<path d="M486,640 C496,650 476,660 486,670 C496,680 476,690 486,700 C496,710 476,720 486,730 C496,740 476,750 486,760 C496,770 476,780 486,790" stroke="#8a1c2c" stroke-width="1.2" fill="none"/>
<path d="M486,640 C476,650 496,660 486,670 C476,680 496,690 486,700 C476,710 496,720 486,730 C476,740 496,750 486,760 C476,770 496,780 486,790" stroke="#4a1c5c" stroke-width="1.2" fill="none"/>
<rect x="463" y="677" width="10" height="26" rx="4" fill="#9c4a38" stroke="#555" stroke-width=".5"/>
<rect x="474" y="675" width="7" height="22" rx="2" fill="#f2c21a"/>
<text x="468" y="805" font-size="7" text-anchor="middle" fill="#333">Nucleus</text>
<g font-size="6.5" font-weight="bold" fill="#222"><text x="500" y="650">COL1/3A1</text><text x="500" y="658">α-SMA</text><text x="500" y="666">MMP2/9</text><text x="500" y="674">TGF-β</text><text x="500" y="682">TNF-α</text>
<text x="502" y="757">COL1/3A1</text><text x="502" y="765">α-SMA</text><text x="502" y="773">MMP2/9</text><text x="502" y="781">TGF-β</text><text x="502" y="789">TNF-α</text></g>
<path d="M537,682V652" stroke="#e03040" stroke-width="1"/><path d="M537,648l-2.5,5h5z" fill="#e03040"/>
<path d="M537,752V784" stroke="#6ab53c" stroke-width="1"/><path d="M537,789l-2.5,-5h5z" fill="#6ab53c"/>
<path d="M510,683V692" stroke="#c01828" stroke-width="2.5"/><path d="M510,698l-3.5,-6h7z" fill="#c01828"/>
<text x="504" y="713" font-size="8" font-weight="bold" fill="#d82a3a">Atrial Fibrillation</text>
<path d="M505,725H512l1,-5 1,7 1,-2H520l1,-5 1,7 1,-2H527l1,-5 1,7 1,-2H534l1,-5 1,7 1,-2H545l1,-5 1,7 1,-2H553l1,-5 1,7 1,-2H567" stroke="#d82a3a" stroke-width=".6" fill="none"/>
</svg>
</body></html>
